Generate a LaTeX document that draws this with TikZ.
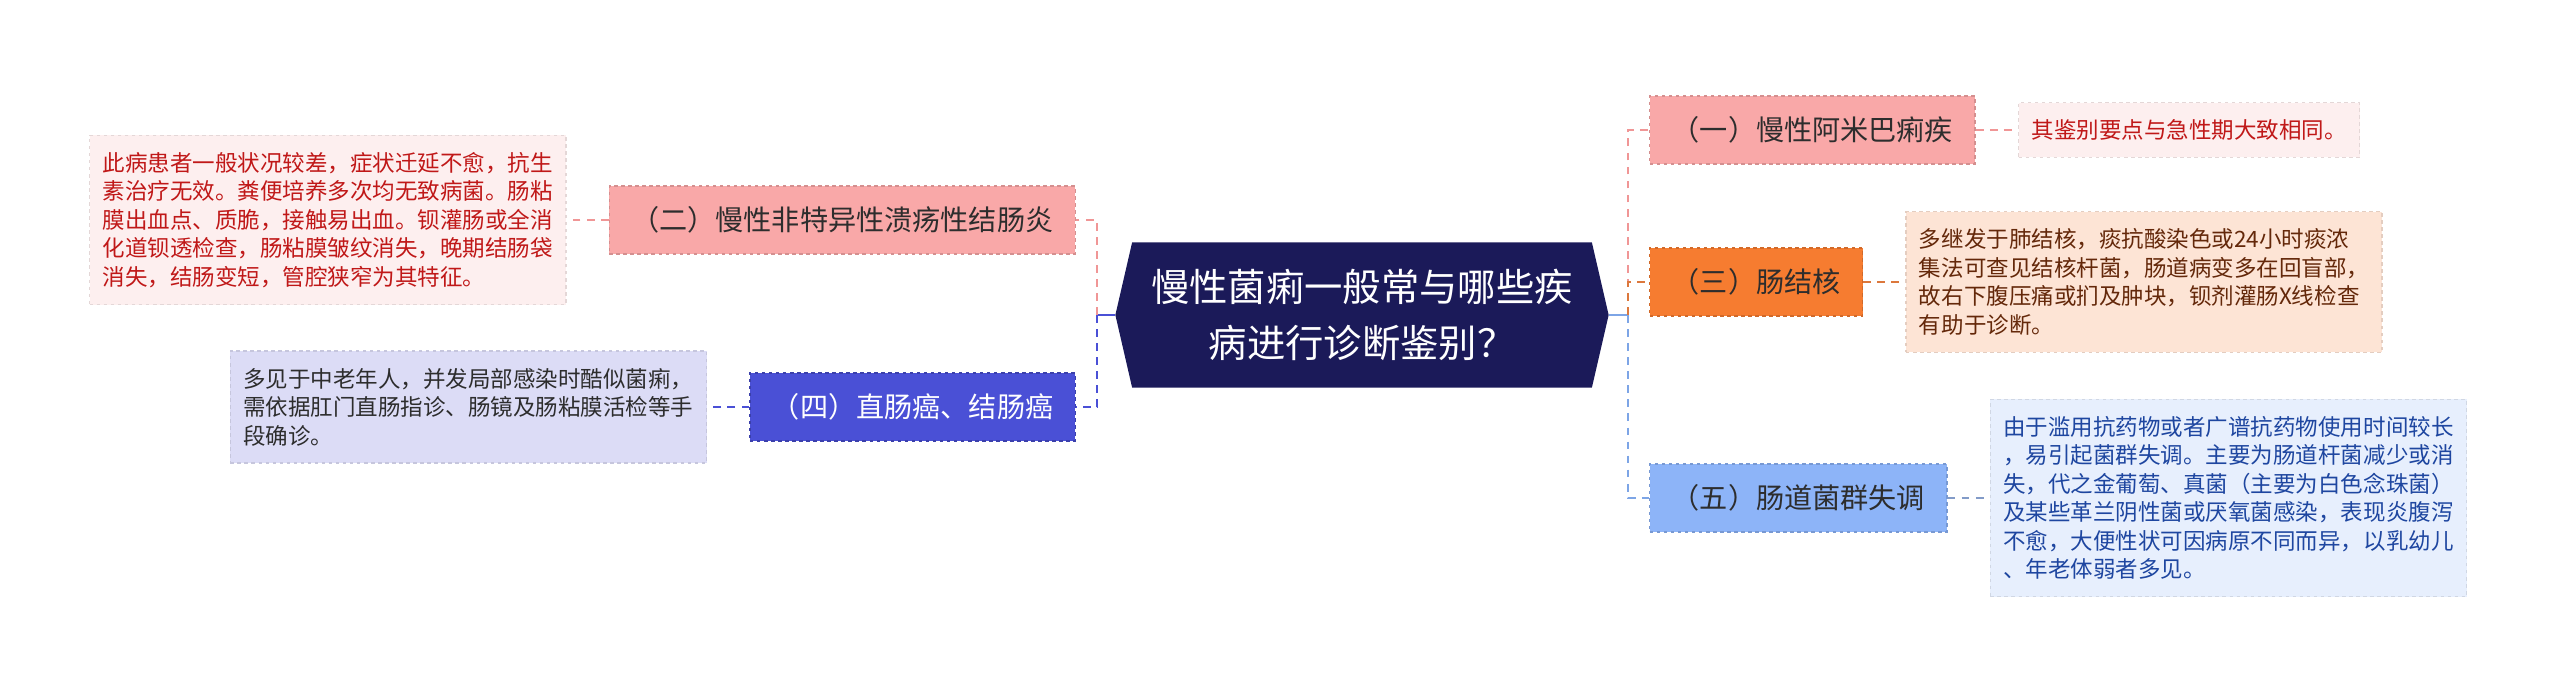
\documentclass[tikz,border=0pt]{standalone}
\usepackage{fontspec}
\setmainfont{Noto Sans CJK SC}
\usetikzlibrary{positioning, shapes.symbols}

\definecolor{navy}{RGB}{27,26,89}
\definecolor{pinkb}{RGB}{249,168,168}
\definecolor{orangeb}{RGB}{246,124,48}
\definecolor{violetb}{RGB}{74,80,214}
\definecolor{blueb}{RGB}{141,180,248}
\definecolor{redleaf}{RGB}{253,239,239}
\definecolor{redtext}{RGB}{192,24,24}
\definecolor{peachleaf}{RGB}{253,228,213}
\definecolor{browntext}{RGB}{100,40,10}
\definecolor{lavleaf}{RGB}{220,220,246}
\definecolor{blueleaf}{RGB}{231,239,253}
\definecolor{bluetext}{RGB}{30,70,160}
\definecolor{darktext}{RGB}{45,45,45}
\definecolor{pinkline}{RGB}{240,150,150}
\definecolor{orangeline}{RGB}{220,120,60}
\definecolor{blueline}{RGB}{125,165,230}
\definecolor{greyblue}{RGB}{130,155,200}

\begin{document}
\begin{tikzpicture}[
    x=0.01cm,
    y=-0.01cm,
    node distance=0.42cm,
    branch/.style={rectangle, minimum height=0.68cm, inner xsep=0.22cm,
        font=\fontsize{8pt}{9.6pt}\selectfont, dash pattern=on 1pt off 1pt, line width=0.4pt},
    leaf/.style={rectangle, align=left, inner xsep=0.13cm, inner ysep=0.17cm,
        font=\fontsize{6.4pt}{8.1pt}\selectfont, dash pattern=on 1pt off 1pt, line width=0.4pt},
    link/.style={line width=0.7pt, dash pattern=on 2.2pt off 1.8pt},
]
    \useasboundingbox (0,0) rectangle (2560,693);

    \node[signal, signal to=west and east, signal pointer angle=154, fill=navy, text=white,
          minimum width=4.93cm, minimum height=1.45cm, inner sep=0pt, align=center,
          font=\fontsize{10.9pt}{15.9pt}\selectfont] (Q) at (1362,315)
          {慢性菌痢一般常与哪些疾\\病进行诊断鉴别？};

    \node[branch, fill=pinkb,   draw=pinkb!85!black,   text=darktext, anchor=east] (B2) at (1076,220) {（二）慢性非特异性溃疡性结肠炎};
    \node[branch, fill=violetb, draw=violetb!80!black, text=white,    anchor=east] (B4) at (1076,407) {（四）直肠癌、结肠癌};
    \node[branch, fill=pinkb,   draw=pinkb!85!black,   text=darktext, anchor=west] (B1) at (1649,130) {（一）慢性阿米巴痢疾};
    \node[branch, fill=orangeb, draw=orangeb!85!black, text=darktext, anchor=west] (B3) at (1649,282) {（三）肠结核};
    \node[branch, fill=blueb,   draw=blueb!85!black,   text=darktext, anchor=west] (B5) at (1649,498) {（五）肠道菌群失调};

    \node[leaf, fill=redleaf, draw=redleaf!90!black, text=redtext, left=of B2] (L2)
        {此病患者一般状况较差，症状迁延不愈，抗生\\素治疗无效。粪便培养多次均无致病菌。肠粘\\膜出血点、质脆，接触易出血。钡灌肠或全消\\化道钡透检查，肠粘膜皱纹消失，晚期结肠袋\\消失，结肠变短，管腔狭窄为其特征。};
    \node[leaf, fill=lavleaf, draw=lavleaf!90!black, text=darktext, left=of B4] (L4)
        {多见于中老年人，并发局部感染时酷似菌痢，\\需依据肛门直肠指诊、肠镜及肠粘膜活检等手\\段确诊。};
    \node[leaf, fill=redleaf, draw=redleaf!90!black, text=redtext, right=of B1] (L1)
        {其鉴别要点与急性期大致相同。};
    \node[leaf, fill=peachleaf, draw=peachleaf!90!black, text=browntext, right=of B3] (L3)
        {多继发于肺结核，痰抗酸染色或24小时痰浓\\集法可查见结核杆菌，肠道病变多在回盲部，\\故右下腹压痛或扪及肿块，钡剂灌肠X线检查\\有助于诊断。};
    \node[leaf, fill=blueleaf, draw=blueleaf!90!black, text=bluetext, right=of B5] (L5)
        {由于滥用抗药物或者广谱抗药物使用时间较长\\，易引起菌群失调。主要为肠道杆菌减少或消\\失，代之金葡萄、真菌（主要为白色念珠菌）\\及某些革兰阴性菌或厌氧菌感染，表现炎腹泻\\不愈，大便性状可因病原不同而异，以乳幼儿\\、年老体弱者多见。};

    \coordinate (QL) at (1097,315);
    \coordinate (QR) at (1628,315);

    \draw[line width=0.7pt, violetb] (Q.west) -- (QL);
    \draw[line width=0.7pt, blueline] (Q.east) -- (QR);

    \draw[link, pinkline]   (QL) |- (B2.east);
    \draw[link, violetb]    (QL) |- (B4.east);
    \draw[link, pinkline]   (QR) |- (B1.west);
    \draw[link, orangeline] (QR) |- (B3.west);
    \draw[link, blueline]   (QR) |- (B5.west);

    \path
        (B2) edge [link, pinkline]   (L2)
        (B4) edge [link, violetb]    (L4)
        (B1) edge [link, pinkline]   (L1)
        (B3) edge [link, orangeline] (L3)
        (B5) edge [link, greyblue]   (L5)
    ;
\end{tikzpicture}
\end{document}
